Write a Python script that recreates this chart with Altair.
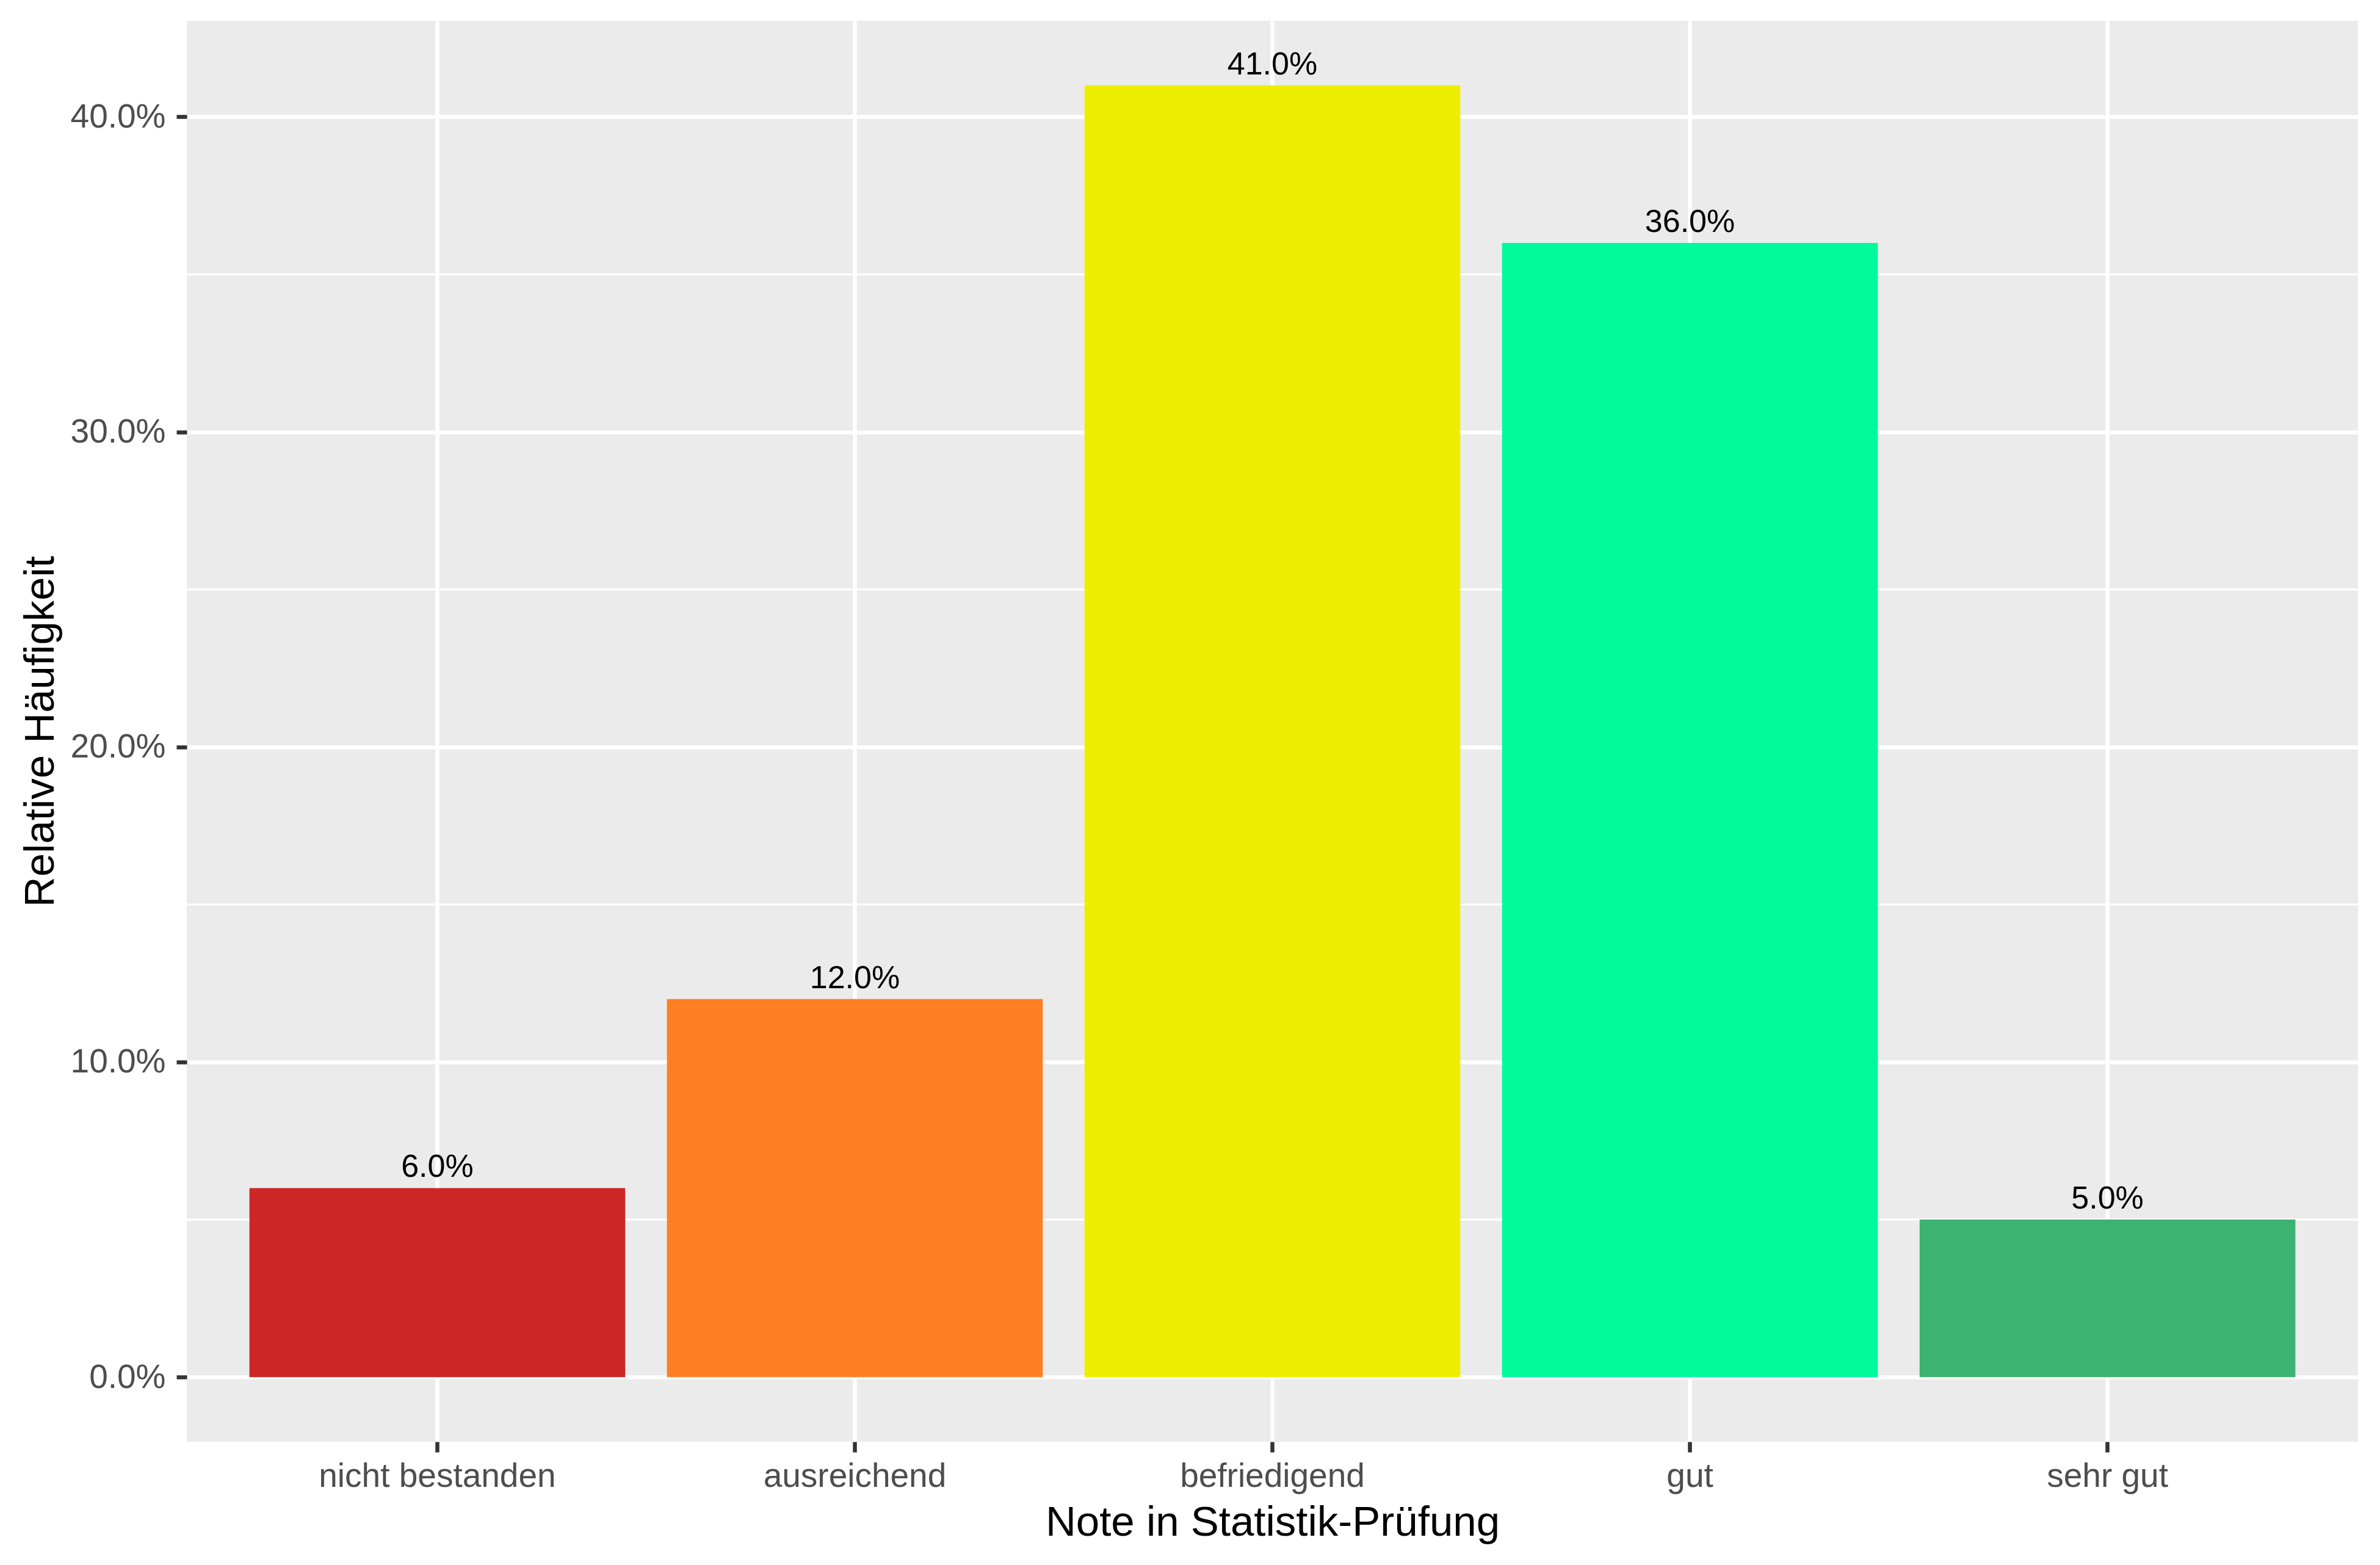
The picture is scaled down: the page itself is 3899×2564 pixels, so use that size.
import altair as alt
import pandas as pd

categories = ["nicht bestanden", "ausreichend", "befriedigend", "gut", "sehr gut"]
values = [0.06, 0.12, 0.41, 0.36, 0.05]
labels = ["6.0%", "12.0%", "41.0%", "36.0%", "5.0%"]
colors = ["#CD2626", "#FF7F24", "#EEEE00", "#00FA9A", "#3CB371"]
y_ticks = [0.0, 0.1, 0.2, 0.3, 0.4]
y_minor = [0.05, 0.15, 0.25, 0.35]
y_domain = [-0.0205, 0.4305]

df = pd.DataFrame({"Note": categories, "Anteil": values, "Label": labels})
minor_df = pd.DataFrame({"Anteil": y_minor})

W, H = 3557, 2328
FONT = "Liberation Sans"

x_axis = alt.Axis(
    title="Note in Statistik-Prüfung",
    grid=True, gridColor="white", gridWidth=6.5, bandPosition=0.5,
    domain=False,
    ticks=True, tickColor="#333333", tickSize=17, tickWidth=6.5,
    labelFont=FONT, labelFontSize=55, labelColor="#4D4D4D",
    labelAngle=0, labelPadding=56, labelBaseline="alphabetic",
    labelOverlap=False, labelLimit=2000,
    titleFont=FONT, titleFontSize=69, titleColor="black", titleFontWeight="normal",
    titleBaseline="alphabetic", titleAlign="center", titleX=W / 2, titleY=153,
)

y_axis = alt.Axis(
    title="Relative Häufigkeit",
    values=y_ticks, format=".1%",
    grid=True, gridColor="white", gridWidth=6.5,
    domain=False,
    ticks=True, tickColor="#333333", tickSize=17, tickWidth=6.5,
    labelFont=FONT, labelFontSize=55, labelColor="#4D4D4D",
    labelPadding=18, labelBaseline="middle", labelAlign="right",
    labelOverlap=False, labelLimit=2000,
    titleFont=FONT, titleFontSize=69, titleColor="black", titleFontWeight="normal",
    titleAngle=270, titleBaseline="alphabetic", titleAlign="center",
    titleX=-219, titleY=H / 2,
)

x_scale = alt.Scale(domain=categories, paddingInner=0.1, paddingOuter=0.15)
y_scale = alt.Scale(domain=y_domain, nice=False, zero=False)

minor = alt.Chart(minor_df).mark_rule(color="white", strokeWidth=3.3).encode(
    y=alt.Y("Anteil:Q", scale=y_scale, axis=y_axis)
)

bars = alt.Chart(df).mark_bar().encode(
    x=alt.X("Note:N", sort=categories, scale=x_scale, axis=x_axis),
    y=alt.Y("Anteil:Q", scale=y_scale, axis=y_axis),
    color=alt.Color("Note:N", scale=alt.Scale(domain=categories, range=colors), legend=None),
)

text = alt.Chart(df).mark_text(
    dy=-18, baseline="alphabetic", align="center", font=FONT, fontSize=52, color="black"
).encode(
    x=alt.X("Note:N", sort=categories, scale=x_scale, axis=x_axis),
    y=alt.Y("Anteil:Q", scale=y_scale, axis=y_axis),
    text="Label:N",
)

chart = alt.layer(minor, bars, text).properties(
    width=W, height=H,
    autosize=alt.AutoSizeParams(type="none"),
    padding={"left": 306, "top": 34, "right": 36, "bottom": 202},
    background="white",
).configure_view(fill="#EBEBEB", stroke=None)

chart.save("out.html", embed_options={"renderer": "svg", "actions": False})
